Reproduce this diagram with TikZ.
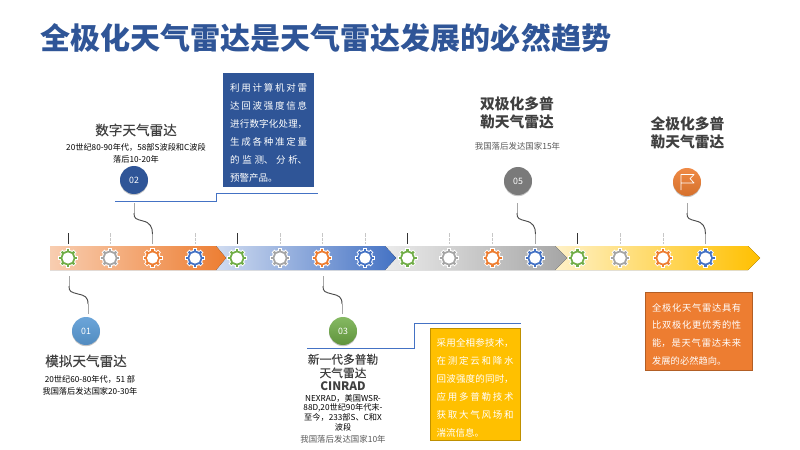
\documentclass[tikz,border=0pt]{standalone}
\usepackage{fontspec}
\setmainfont{Noto Sans CJK SC}
\newfontfamily\headfont[FakeBold=0.25]{Noto Sans CJK SC}
\usepackage{xcolor}
\usetikzlibrary{positioning, shadows, calc}

\definecolor{navy}{HTML}{2F5597}
\definecolor{gblue}{HTML}{4472C4}
\definecolor{gsky}{HTML}{5B9BD5}
\definecolor{ggreen}{HTML}{70AD47}
\definecolor{ggray}{HTML}{A5A5A5}
\definecolor{gorange}{HTML}{ED7D31}
\definecolor{gyellow}{HTML}{FFC000}
\definecolor{inkgray}{HTML}{404040}

\XeTeXlinebreaklocale "zh"
\XeTeXlinebreakskip=0pt plus 2pt

\tikzset{
  stagehead/.style={font={\headfont\fontsize{11.6}{13.6}\selectfont}, text=inkgray, align=center, inner sep=0pt},
  stagebold/.style={font={\fontsize{12.6}{15.4}\selectfont\bfseries}, text=inkgray, align=center, inner sep=0pt},
  stagenote/.style={font={\fontsize{7}{10.2}\selectfont}, text=black, align=center, inner sep=0pt},
  stagelag/.style={font={\fontsize{7.2}{9}\selectfont}, text=black!65, align=center, inner sep=0pt},
  badge/.style={circle, minimum size=0.84cm, inner sep=0pt, text=white,
    font={\fontsize{7.5}{8}\selectfont},
    drop shadow={opacity=0.45, shadow xshift=0pt, shadow yshift=-1pt}},
  infotext/.style={font={\fontsize{8.1}{15.4}\selectfont}, text=white, inner sep=0pt,
    align=justify, anchor=north west, text width=2.31cm},
  elbow/.style={gblue, line width=0.7pt},
  wirelight/.style={black!35, line width=0.7pt},
  wiredark/.style={black!70, line width=0.8pt},
  marksolid/.style={black!80, line width=0.6pt},
  markdash/.style={black!22, line width=0.7pt, dash pattern=on 3pt off 1pt}
}

\begin{document}
\begin{tikzpicture}[x=0.03cm, y=-0.03cm]
  \useasboundingbox (0,0) rectangle (800,450);

  %% -- Title -------------------------------------------------
  \node[font={\fontsize{25.65}{30}\selectfont\bfseries}, text=navy, anchor=west, inner sep=0pt]
    (title) at (40,38) {全极化天气雷达是天气雷达发展的必然趋势};

  %% -- Arrow bands, last one first so the tips lie on top -----
  \fill[left color=gyellow!22, middle color=gyellow!30, right color=gyellow]
    (555,246) -- (748,246) -- (760,258) -- (748,270) -- (555,270) -- cycle;
  \fill[left color=black!8, middle color=black!12, right color=ggray]
    (385,246) -- (555,246) -- (567,258) -- (555,270) -- (385,270) -- cycle;
  \fill[left color=gblue!25, middle color=gblue!28, right color=gblue]
    (216,246) -- (385,246) -- (396,258) -- (385,270) -- (216,270) -- cycle;
  \fill[left color=gorange!38, middle color=gorange!48, right color=gorange]
    (50,246) -- (216,246) -- (226,258) -- (216,270) -- (50,270) -- cycle;

  %% -- Marks above the bands ----------------------------------
  \foreach \xm in {68,237,407,577}
    \draw[marksolid] (\xm,233) -- (\xm,244);
  \foreach \xm in {110,195,280,322,365,449,492,620,663}
    \draw[markdash] (\xm,233) -- (\xm,244);

  %% -- Gears --------------------------------------------------
  \foreach \xg/\cg in {68/ggreen, 110/ggray, 152.5/gorange, 195/gblue,
                       237/ggreen, 280/ggray, 322/gorange, 365/gblue,
                       407.5/ggreen, 449/ggray, 492.5/gorange, 535/gblue,
                       577.5/ggreen, 620/ggray, 663/gorange, 705.5/gblue}{
    \fill[white] (\xg,258) circle (8.2);
    \foreach \ang in {0,45,...,315}
      \fill[\cg, draw=white, line width=0.6pt, rotate around={\ang:(\xg,258)}]
        (\xg-1.7,248.6) rectangle (\xg+1.7,252);
    \fill[\cg] (\xg,258) circle (7.2);
    \fill[white] (\xg,258) circle (5.6);
  }

  %% -- Stage badges -------------------------------------------
  \node[badge, top color=gsky!90, bottom color=gsky!90!black] (b01) at (86,331) {01};
  \node[badge, fill=navy] (b02) at (134,180) {02};
  \node[badge, top color=ggreen!85, bottom color=ggreen!85!black] (b03) at (343,331) {03};
  \node[badge, fill=black!52] (b05) at (518,181) {05};
  \node[badge, top color=gorange!90, bottom color=gorange!90!black] (bflag) at (687,182) {};
  \draw[white, line width=0.6pt, line join=round]
    (681,190) -- (681,174.5) -- (694,174.5) -- (690,178.5) -- (694,183) -- (681,183);

  %% -- S shaped leaders ---------------------------------------
  \foreach \nm/\xa/\ya/\xb/\yb in {one/69/276/88/314, two/134/203/152.5/244,
                                   three/323/276/342/314, five/517/203/535.5/244,
                                   flag/687/203/705.5/244}{
    \coordinate (\nm a) at (\xa,\ya);
    \coordinate (\nm b) at (\xb,\yb);
    \draw[wirelight] (\nm a) -- ++(0,10);
    \draw[wirelight] (\nm b) -- ++(0,-10);
    \draw[wiredark] ($(\nm a)+(0,10)$) .. controls +(0,6) and +(-7,-2) .. ++(9,8)
      .. controls +(7,1.5) and +(0,-7) .. ($(\nm b)+(0,-10)$);
  }

  %% -- Elbow rules --------------------------------------------
  \coordinate (ruleAa) at (115,201);
  \coordinate (ruleAb) at (318,193);
  \coordinate (ruleBa) at (307,348.5);
  \coordinate (ruleBb) at (521,323.5);
  \draw[elbow] (ruleAa) -- (216,201) -- (216,193) -- (ruleAb);
  \draw[elbow] (ruleBa) -- (414,348.5) -- (414,323.5) -- (ruleBb);

  %% -- Info boxes ---------------------------------------------
  \fill[navy] (223,73) rectangle (314,187);
  \node[infotext] (infoA) at (230,83) {利用计算机对雷\linebreak 达回波强度信息\linebreak 进行数字化处理，\linebreak
    生成各种准定量\linebreak 的监测、分析、\linebreak 预警产品。};

  \draw[fill=gyellow, draw=gyellow!75!black, line width=0.7pt] (430,328) rectangle (520.5,440.5);
  \node[infotext] (infoB) at (436.5,338) {采用全相参技术，\linebreak 在测定云和降水\linebreak 回波强度的同时，\linebreak
    应用多普勒技术\linebreak 获取大气风场和\linebreak 湍流信息。};

  \draw[fill=gorange, draw=gorange!75!black, line width=0.7pt] (645,292) rectangle (752,370);
  \node[infotext, text width=2.67cm, font={\fontsize{7.9}{15.1}\selectfont}] (infoC) at (652,303)
    {全极化天气雷达具有\linebreak 比双极化更优秀的性\linebreak 能，是天气雷达未来\linebreak 发展的必然趋向。};

  %% -- Stage texts --------------------------------------------
  \node[stagehead] (headtwo) at (136,130) {数字天气雷达};
  \node[stagenote] (notetwo) at (136,153) {20世纪80-90年代，58部S波段和C波段\\落后10-20年};

  \node[stagehead] (headone) at (86,361) {模拟天气雷达};
  \node[stagenote] (noteone) at (90,385) {20世纪60-80年代，51 部\\我国落后发达国家20-30年};

  \node[stagehead, font={\headfont\fontsize{10}{11.6}\selectfont}] (headthree) at (343,372.5)
    {新一代多普勒\\天气雷达\\{\normalfont\bfseries CINRAD}};
  \node[stagenote, font={\fontsize{7}{8.3}\selectfont}] (notethree) at (343,412.5)
    {NEXRAD，美国WSR-\\88D,20世纪90年代末-\\至今，233部S、C和X\\波段};
  \node[stagelag] (lagthree) at (343,439) {我国落后发达国家10年};

  \node[stagebold] (headfive) at (517,113) {双极化多普\\勒天气雷达};
  \node[stagelag] (lagfive) at (517.5,146) {我国落后发达国家15年};

  \node[stagebold] (headflag) at (687.5,133) {全极化多普\\勒天气雷达};

\end{tikzpicture}
\end{document}
